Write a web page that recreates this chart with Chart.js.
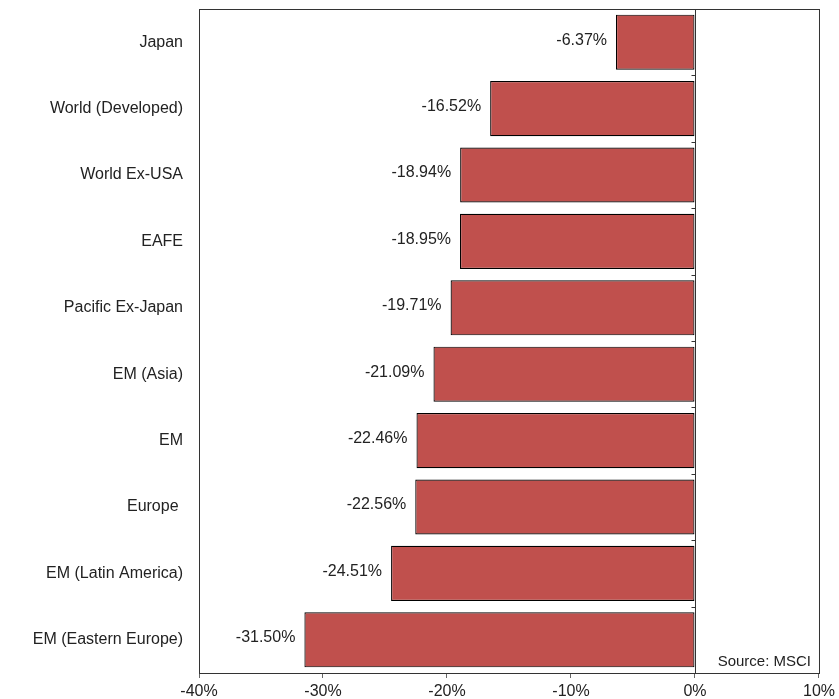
<!DOCTYPE html>
<html>
<head>
<meta charset="utf-8">
<script src="https://cdn.jsdelivr.net/npm/chart.js@4.4.1/dist/chart.umd.min.js"></script>
<style>
  html, body { margin: 0; padding: 0; background: #fff; }
  #wrap { width: 839px; height: 699px; }
</style>
</head>
<body>
<div id="wrap"><canvas id="chart" width="839" height="699"></canvas></div>
<script>
const regions = ["Japan", "World (Developed)", "World Ex-USA", "EAFE", "Pacific Ex-Japan",
  "EM (Asia)", "EM", "Europe ", "EM (Latin America)", "EM (Eastern Europe)"];
const returns = [-6.37, -16.52, -18.94, -18.95, -19.71, -21.09, -22.46, -22.56, -24.51, -31.50];
const xTicks = [-40, -30, -20, -10, 0, 10];
const sourceText = "Source: MSCI";

// frame, zero line with small ticks, value labels, source note
const extras = {
  id: "extras",
  afterDatasetsDraw(chart) {
    const ctx = chart.ctx;
    const a = chart.chartArea;
    const xs = chart.scales.x;
    ctx.save();
    ctx.strokeStyle = "#333";
    ctx.lineWidth = 1;
    ctx.strokeRect(a.left + 0.5, a.top + 0.5, a.right - a.left, a.bottom - a.top);

    const x0 = Math.round(xs.getPixelForValue(0)) + 0.5;
    ctx.beginPath();
    ctx.moveTo(x0, a.top);
    ctx.lineTo(x0, a.bottom);
    const step = (a.bottom - a.top) / regions.length;
    for (let i = 1; i < regions.length; i++) {
      const y = Math.round(a.top + i * step) + 0.5;
      ctx.moveTo(x0 - 4, y);
      ctx.lineTo(x0, y);
    }
    ctx.stroke();

    ctx.fillStyle = "#222";
    ctx.font = "16px 'Liberation Sans', Arial, sans-serif";
    ctx.textAlign = "right";
    ctx.textBaseline = "middle";
    const meta = chart.getDatasetMeta(0);
    meta.data.forEach((bar, i) => {
      ctx.fillText(returns[i].toFixed(2) + "%", bar.x - 9, bar.y - 2);
    });

    ctx.font = "15px 'Liberation Sans', Arial, sans-serif";
    ctx.textBaseline = "alphabetic";
    ctx.fillText(sourceText, a.right - 8, a.bottom - 7);
    ctx.restore();
  }
};

new Chart(document.getElementById("chart"), {
  type: "bar",
  data: {
    labels: regions,
    datasets: [{
      data: returns,
      backgroundColor: "#C0504D",
      borderColor: "#000",
      borderWidth: 1.2,
      borderSkipped: false,
      barPercentage: 0.83,
      categoryPercentage: 1
    }]
  },
  options: {
    indexAxis: "y",
    responsive: false,
    animation: false,
    layout: { padding: { top: 9, right: 19, left: 0, bottom: 0 } },
    plugins: { legend: { display: false }, tooltip: { enabled: false } },
    scales: {
      x: {
        min: -40,
        max: 10,
        afterBuildTicks(scale) { scale.ticks = xTicks.map(v => ({ value: v })); },
        afterFit(scale) { scale.height = 26; },
        grid: { drawOnChartArea: false, tickLength: 5, color: "#666" },
        border: { display: false },
        ticks: {
          color: "#222",
          font: { family: "'Liberation Sans', Arial, sans-serif", size: 16 },
          padding: 4,
          maxRotation: 0,
          callback: v => v + "%"
        }
      },
      y: {
        afterFit(scale) { scale.width = 199; scale.paddingTop = 0; scale.paddingBottom = 0; },
        grid: { display: false },
        border: { display: false },
        ticks: {
          color: "#222",
          font: { family: "'Liberation Sans', Arial, sans-serif", size: 16 },
          padding: 8
        }
      }
    }
  },
  plugins: [extras]
});
</script>
</body>
</html>
